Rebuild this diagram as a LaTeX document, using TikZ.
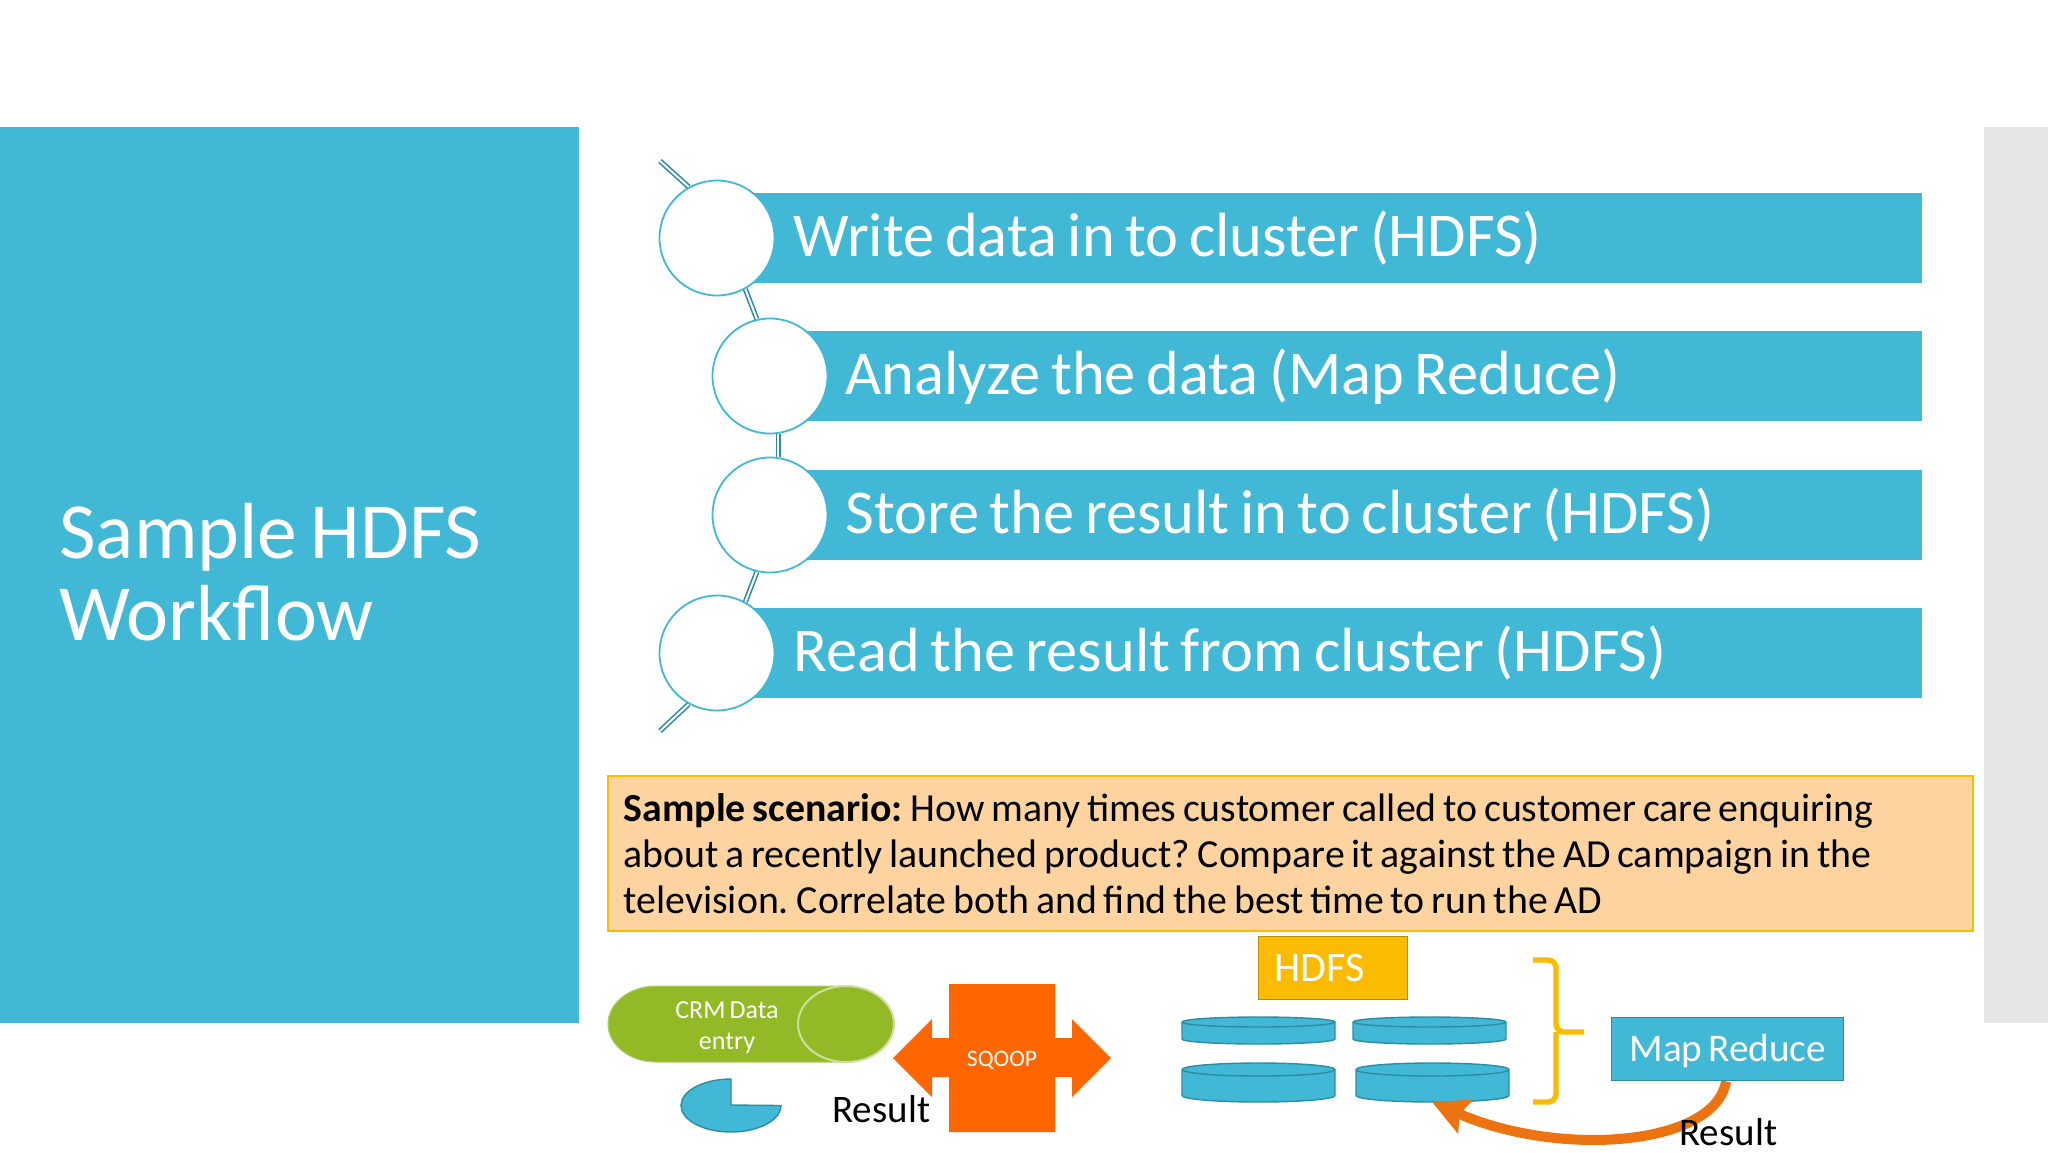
\documentclass[tikz,border=0pt]{standalone}
\usepackage{fontspec}
\setmainfont[WordSpace=0.7]{Carlito}
\usetikzlibrary{arrows.meta,positioning}

\definecolor{panelteal}{HTML}{41B8D5}
\definecolor{darkteal}{HTML}{2D8CA3}
\definecolor{sidegray}{HTML}{E6E6E6}
\definecolor{notefill}{HTML}{FDD39F}
\definecolor{amber}{HTML}{FBBB00}
\definecolor{crmgreen}{HTML}{92B926}
\definecolor{sqoop}{HTML}{FF6600}
\definecolor{resarrow}{HTML}{ED7210}

\newcommand{\tightwords}{\spaceskip=.17em\xspaceskip=.2em\relax}

\begin{document}
\begin{tikzpicture}[x=0.5pt,y=-0.5pt]
  \tikzstyle{bar}=[fill=panelteal,text=white,anchor=west,align=left,inner xsep=38pt,inner ysep=0pt,
    minimum height=45pt,text height=23pt,text depth=5pt,font=\fontsize{31.2}{34}\selectfont,
    execute at begin node=\tightwords]
  \tikzstyle{ring}=[circle,draw=panelteal,fill=white,line width=0.9pt,minimum size=57.5pt,inner sep=0pt]
  \tikzstyle{spine}=[draw=darkteal,double=white,double distance=1pt,line width=0.8pt]
  \tikzstyle{blue box}=[fill=panelteal,draw=darkteal,line width=0.7pt]
  \tikzstyle{label}=[inner sep=0pt,anchor=base west]

  \useasboundingbox (0,0) rectangle (2048,1152);

  % side panels
  \fill[panelteal] (0,127) rectangle (579,1023);
  \fill[sidegray] (1984,127) rectangle (2048,1023);
  \node[label,text=white,align=left,font=\fontsize{39.8}{41}\selectfont,
    execute at begin node=\tightwords] (title) at (59,640)
    {Sample HDFS\\Workflow};

  % steps
  \node[bar,text width=526.5pt] (b1) at (717,238) {Write data in to cluster (HDFS)};
  \node[bar,text width=500.5pt] (b2) at (769,376) {Analyze the data (Map Reduce)};
  \node[bar,text width=500.5pt] (b3) at (769,515) {Store the result in to cluster (HDFS)};
  \node[bar,text width=526.5pt] (b4) at (717,653) {Read the result from cluster (HDFS)};

  \node[ring] (c1) at (717,238) {};
  \node[ring] (c2) at (770,376) {};
  \node[ring] (c3) at (770,515) {};
  \node[ring] (c4) at (717,653) {};

  \coordinate (top) at (660,161);
  \coordinate (bot) at (660,731);
  \draw[spine] (top) -- (c1.119);
  \draw[spine] (c1.-61) -- (c2.103);
  \draw[spine] (c2.-82) -- (c3.82);
  \draw[spine] (c3.-103) -- (c4.61);
  \draw[spine] (c4.-119) -- (bot);

  % scenario
  \node[fill=notefill,draw=amber,line width=0.8pt,anchor=north west,inner xsep=8pt,inner ysep=0pt,
    minimum width=682.5pt,minimum height=77.5pt,text width=666.5pt,align=left,
    font=\fontsize{19.9}{23}\selectfont,execute at begin node=\tightwords] (note) at (607,775)
    {\textbf{Sample scenario:} How many times customer called to customer care enquiring\\
     about a recently launched product? Compare it against the AD campaign in the\\
     television. Correlate both and find the best time to run the AD};

  % crm
  \path[fill=crmgreen,draw=crmgreen!70!white,line width=0.5pt] (656,986) -- (846,986)
    arc[start angle=-90,end angle=90,x radius=48,y radius=38] -- (656,1062)
    arc[start angle=90,end angle=270,x radius=48,y radius=38] -- cycle;
  \draw[crmgreen!45!white,line width=1pt] (846,1024) ellipse[x radius=48,y radius=38];
  \node[text=white,align=center,inner sep=0pt,font=\fontsize{13}{15.5}\selectfont] (crm) at (727,1028)
    {CRM Data\\entry};

  \path[fill=panelteal,draw=darkteal,line width=0.7pt] (731,1105) -- (731,1079)
    arc[start angle=-90,end angle=-360,x radius=50,y radius=26.5] -- cycle;
  \node[label,font=\fontsize{19.5}{23}\selectfont] (res1) at (832,1122) {Result};

  % sqoop
  \fill[sqoop] (949,984) -- (1055,984) -- (1055,1038) -- (1072,1038) -- (1072,1019) -- (1111,1058)
    -- (1072,1097) -- (1072,1077) -- (1055,1077) -- (1055,1132) -- (949,1132) -- (949,1077)
    -- (932,1077) -- (932,1097) -- (893,1058) -- (932,1019) -- (932,1038) -- (949,1038) -- cycle;
  \node[text=white,inner sep=0pt,font=\fontsize{11.8}{13}\selectfont] (sq) at (1002,1060) {SQOOP};

  % hdfs
  \node[fill=amber,draw=amber!75!black,line width=0.6pt,anchor=north west,minimum width=74.5pt,
    minimum height=31.5pt,inner sep=0pt] (hdfs) at (1258,936) {};
  \node[label,text=white,font=\fontsize{21}{24}\selectfont] (hdfst) at (1274,981) {HDFS};

  \foreach \xa/\xb/\ya/\yb/\ry in {1182/1335/1017/1044/5, 1353/1506/1017/1044/5,
      1182/1335/1063/1102/6.5, 1356/1509/1063/1102/6.5}{
    \path[blue box] (\xa,\ya+\ry) -- (\xa,\yb-\ry)
      arc[start angle=180,end angle=0,x radius=(\xb-\xa)/2,y radius=\ry]
      -- (\xb,\ya+\ry) arc[start angle=0,end angle=-180,x radius=(\xb-\xa)/2,y radius=\ry] -- cycle;
    \draw[darkteal,line width=0.7pt] (\xa,\ya+\ry)
      arc[start angle=180,end angle=0,x radius=(\xb-\xa)/2,y radius=\ry];
  }

  % brace
  \draw[amber,line width=2.7pt,rounded corners=4pt] (1533,960) -- (1556,960) -- (1556,1032) -- (1584,1032);
  \draw[amber,line width=2.7pt,rounded corners=4pt] (1533,1102) -- (1556,1102) -- (1556,1032);

  % map reduce
  \node[blue box,text=white,anchor=north west,minimum width=116pt,minimum height=31.5pt,inner sep=0pt,
    text height=15pt,text depth=3pt,font=\fontsize{19.6}{22}\selectfont] (mr) at (1611,1017) {Map Reduce};

  \coordinate (disk) at (1432,1102);
  \draw[resarrow,line width=5pt,-{Stealth[length=18pt,width=18pt,inset=3pt]}]
    (mr.south -| 1726,1080) .. controls (1715,1146) and (1560,1158) .. (disk);
  \node[label,font=\fontsize{19.5}{23}\selectfont] (res2) at (1679,1145) {Result};
\end{tikzpicture}
\end{document}
